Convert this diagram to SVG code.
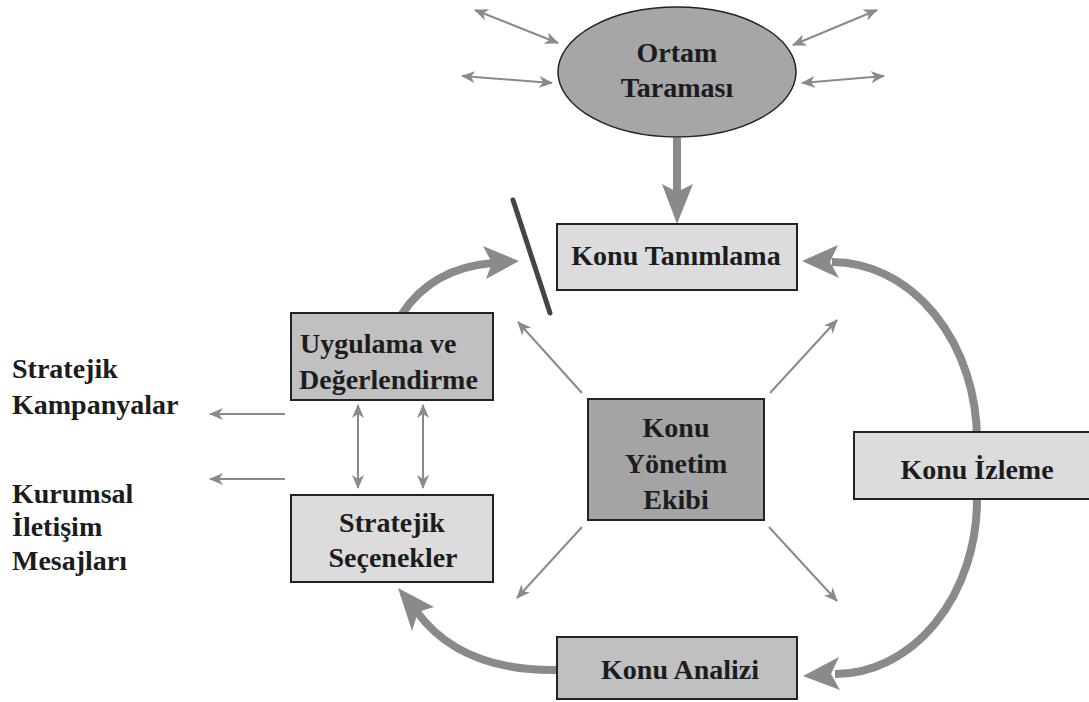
<svg xmlns="http://www.w3.org/2000/svg" width="1089" height="702" viewBox="0 0 1089 702">
  <style>
    text { font-family: "Liberation Serif", "Times New Roman", serif; font-weight: bold; font-size: 28px; fill: #1c1c1c; }
    .c { text-anchor: middle; }
    .box { stroke: #222; stroke-width: 2; }
    .light { fill: #dcdcdc; }
    .mid { fill: #c0c0c0; }
    .dark { fill: #a4a4a4; }
    .thin { stroke: #8a8a8a; stroke-width: 2; fill: none; }
    .thick { stroke: #8a8a8a; stroke-width: 8; fill: none; }
    .head { fill: #8a8a8a; }
  </style>
  <defs>
    <marker id="tip" viewBox="0 0 14 12" refX="13" refY="6" markerWidth="14" markerHeight="12" markerUnits="userSpaceOnUse" orient="auto-start-reverse">
      <path d="M0,0 L14,6 L0,12 L4,6 z" fill="#8a8a8a"/>
    </marker>
  </defs>

  <rect width="1089" height="702" fill="#ffffff"/>

  <!-- connectors -->
  <g id="connectors">
    <!-- environment links around the scanning ellipse -->
    <line class="thin" x1="475" y1="10" x2="558" y2="43" marker-start="url(#tip)" marker-end="url(#tip)"/>
    <line class="thin" x1="462" y1="76" x2="552" y2="83" marker-start="url(#tip)" marker-end="url(#tip)"/>
    <line class="thin" x1="793" y1="45" x2="877" y2="10" marker-start="url(#tip)" marker-end="url(#tip)"/>
    <line class="thin" x1="802" y1="83" x2="884" y2="76" marker-start="url(#tip)" marker-end="url(#tip)"/>

    <!-- scanning feeds identification -->
    <line class="thick" x1="677" y1="138" x2="677" y2="193"/>
    <polygon class="head" points="662,184 677,192 693,184 677,224"/>

    <!-- barrier line -->
    <line x1="513" y1="200" x2="550" y2="313" stroke="#454545" stroke-width="5" stroke-linecap="round"/>

    <!-- implementation back to identification -->
    <path class="thick" d="M402,314 Q432,268 493,263"/>
    <polygon class="head" points="519,261 483,246 492,263 486,279"/>

    <!-- monitoring loop -->
    <path class="thick" d="M832,262 A145,178 0 0 1 977,440 L977,500 A142,174 0 0 1 835,674"/>
    <polygon class="head" points="802,261 838,245 830,262 839,278"/>
    <polygon class="head" points="803,676 839,657 831,674 840,690"/>

    <!-- analysis to strategic options -->
    <path class="thick" d="M557,670 C490,671 445,650 417,612"/>
    <polygon class="head" points="398,588 434,607 418,612 412,631"/>

    <!-- team to the four stages -->
    <line class="thin" x1="582" y1="393" x2="518" y2="322" marker-end="url(#tip)"/>
    <line class="thin" x1="770" y1="393" x2="837" y2="320" marker-end="url(#tip)"/>
    <line class="thin" x1="582" y1="527" x2="517" y2="598" marker-end="url(#tip)"/>
    <line class="thin" x1="769" y1="527" x2="837" y2="601" marker-end="url(#tip)"/>

    <!-- between implementation and options -->
    <line class="thin" x1="358" y1="405" x2="358" y2="488" marker-start="url(#tip)" marker-end="url(#tip)"/>
    <line class="thin" x1="423" y1="405" x2="423" y2="488" marker-start="url(#tip)" marker-end="url(#tip)"/>

    <!-- outputs -->
    <line class="thin" x1="285" y1="414" x2="210" y2="414" marker-end="url(#tip)"/>
    <line class="thin" x1="285" y1="479" x2="210" y2="479" marker-end="url(#tip)"/>
  </g>

  <g id="ortam-taramasi">
    <ellipse cx="677" cy="72" rx="119" ry="65" fill="#a6a6a6" stroke="#222" stroke-width="1.5"/>
    <text class="c" x="677" y="62">Ortam</text>
    <text class="c" x="677" y="97">Taraması</text>
  </g>

  <g id="konu-tanimlama">
    <rect class="box light" x="557" y="224" width="240" height="66"/>
    <text class="c" x="676" y="265">Konu Tanımlama</text>
  </g>

  <g id="uygulama">
    <rect class="box mid" x="291" y="313" width="202" height="87"/>
    <text x="300" y="353">Uygulama ve</text>
    <text x="299" y="389">Değerlendirme</text>
  </g>

  <g id="stratejik-secenekler">
    <rect class="box light" x="291" y="495" width="202" height="87"/>
    <text class="c" x="392" y="532">Stratejik</text>
    <text class="c" x="393" y="567">Seçenekler</text>
  </g>

  <g id="konu-yonetim-ekibi">
    <rect class="box dark" x="588" y="399" width="176" height="121"/>
    <text class="c" x="676" y="437">Konu</text>
    <text class="c" x="676" y="473">Yönetim</text>
    <text class="c" x="676" y="509">Ekibi</text>
  </g>

  <g id="konu-izleme">
    <rect class="box light" x="854" y="432" width="250" height="67"/>
    <text class="c" x="977" y="479">Konu İzleme</text>
  </g>

  <g id="konu-analizi">
    <rect class="box mid" x="557" y="637" width="240" height="62"/>
    <text class="c" x="680" y="679">Konu Analizi</text>
  </g>

  <g id="ciktilar">
    <text x="12" y="378">Stratejik</text>
    <text x="12" y="414">Kampanyalar</text>
    <text x="12" y="503">Kurumsal</text>
    <text x="12" y="536">İletişim</text>
    <text x="12" y="570">Mesajları</text>
  </g>
</svg>
